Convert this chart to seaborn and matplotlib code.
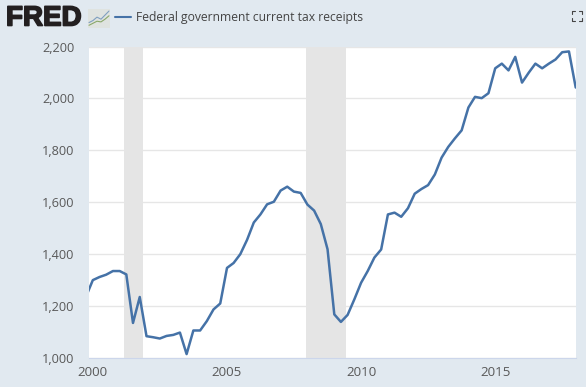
import matplotlib
matplotlib.use("Agg")
import matplotlib.pyplot as plt
import matplotlib.patheffects as pe
import pandas as pd
import seaborn as sns

# quarterly values, billions of dollars, first one sits left of the axis
start_quarter = "1999-10-01"
end_quarter = "2018-01-01"
receipts = [1237, 1300, 1312, 1321, 1335, 1335, 1322, 1135, 1235,
            1084, 1080, 1075, 1085, 1089, 1098, 1015, 1106,
            1106, 1142, 1187, 1210, 1347, 1366, 1400, 1455,
            1522, 1553, 1592, 1602, 1645, 1660, 1641, 1636,
            1591, 1568, 1516, 1419, 1168, 1139, 1166, 1226,
            1290, 1335, 1387, 1418, 1553, 1560, 1544, 1577,
            1633, 1651, 1666, 1707, 1772, 1813, 1846, 1877,
            1965, 2006, 2001, 2020, 2116, 2134, 2108, 2160,
            2061, 2099, 2134, 2116, 2134, 2150, 2178, 2181,
            2042]
recessions = [("2001-03-01", "2001-11-15"), ("2007-12-15", "2009-06-15")]
y_ticks = [1000, 1200, 1400, 1600, 1800, 2000, 2200]
x_years = [2000, 2005, 2010, 2015]
series_name = "Federal government current tax receipts"

# little chart icon next to the logo
icon_blue = [14, 17, 22, 19, 25, 31]
icon_green = [10, 13, 16, 15, 19, 24]

W, H = 586, 387
BG = "#e1e9f0"
BLUE = "#4572a7"
TEXT = "#595959"

sns.set_theme(style="white")
plt.rcParams["font.family"] = ["Open Sans", "DejaVu Sans"]

df = pd.DataFrame({"date": pd.date_range(start_quarter, end_quarter, freq="QS"),
                   "value": receipts})

fig = plt.figure(figsize=(W / 100, H / 100), dpi=100, facecolor=BG)
ax = fig.add_axes([89 / W, 1 - 358 / H, (576 - 89) / W, (358 - 46.5) / H])
ax.set_facecolor("white")

for a, b in recessions:
    ax.axvspan(pd.Timestamp(a), pd.Timestamp(b), color="#e5e5e5", lw=0, zorder=1)

ax.grid(axis="y", color="#e6e6e6", lw=1)
ax.set_axisbelow(True)
sns.lineplot(data=df, x="date", y="value", color=BLUE, lw=1.8, ax=ax, zorder=3)

ax.set_xlim(pd.Timestamp("1999-11-10"), pd.Timestamp("2018-01-05"))
ax.set_ylim(1000, 2200)
ax.set_xticks([pd.Timestamp(f"{y}-01-01") for y in x_years])
ax.set_xticklabels([str(y) for y in x_years])
ax.set_yticks(y_ticks)
ax.set_yticklabels([f"{v:,}" for v in y_ticks])
ax.set_xlabel("")
ax.set_ylabel("")
ax.tick_params(axis="x", length=3.5, width=0.8, color="#ccd6eb", labelsize=9.6, labelcolor=TEXT, pad=2)
ax.tick_params(axis="y", length=0, labelsize=9.2, labelcolor=TEXT, pad=10.5)
for s in ["top", "left", "right"]:
    ax.spines[s].set_visible(False)
ax.spines["bottom"].set_color("#ccd6eb")
ax.spines["bottom"].set_linewidth(0.8)

# header
logo = fig.text(6 / W, 1 - 18.5 / H, "FRED", family="Liberation Sans", weight="bold", fontsize=20,
                color="#231f20", va="center", ha="left")
logo.set_path_effects([pe.withStroke(linewidth=1.2, foreground="#231f20")])
icon = fig.add_axes([88 / W, 1 - 28 / H, 22 / W, 19 / H], facecolor="#dfe3e0")
icon.plot(icon_blue, color="#7f9fc0", lw=0.8)
icon.plot(icon_green, color="#8aa86a", lw=0.8)
icon.set_ylim(6, 34)
icon.set_xticks([])
icon.set_yticks([])
for s in icon.spines.values():
    s.set_visible(False)
fig.add_artist(plt.Line2D([115 / W, 131 / W], [1 - 17 / H, 1 - 17 / H], color=BLUE, lw=1.5))
fig.text(136 / W, 1 - 18 / H, series_name, fontsize=8.7, color="#444444", va="center", ha="left")

# fullscreen corners
x0, x1, y0, y1 = 572, 582, 11, 21
for cx, cy, dx, dy in [(x0, y0, 3, 3), (x1, y0, -3, 3), (x0, y1, 3, -3), (x1, y1, -3, -3)]:
    fig.add_artist(plt.Line2D([(cx + dx) / W, cx / W, cx / W],
                              [1 - cy / H, 1 - cy / H, 1 - (cy + dy) / H],
                              color="#444444", lw=0.8))

fig.savefig("out.png", dpi=100, facecolor=BG)
